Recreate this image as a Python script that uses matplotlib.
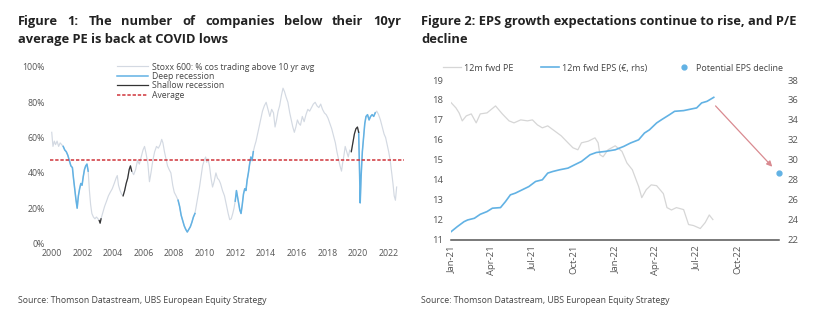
import numpy as np
import pandas as pd
import matplotlib
matplotlib.use("Agg")
import matplotlib.pyplot as plt
import matplotlib.dates as mdates

# ---- Figure 1 data: Stoxx 600 % of companies trading above 10yr avg PE
years = [2000.00, 2000.08, 2000.17, 2000.25, 2000.35, 2000.45, 2000.55, 2000.65, 2000.75, 2000.85,
         2000.95, 2001.05, 2001.15, 2001.25, 2001.35, 2001.42, 2001.50, 2001.58, 2001.66, 2001.74,
         2001.82, 2001.90, 2001.98, 2002.06, 2002.14, 2002.22, 2002.30, 2002.38, 2002.46, 2002.54,
         2002.62, 2002.72, 2002.82, 2002.92, 2003.02, 2003.10, 2003.16, 2003.22, 2003.32, 2003.45,
         2003.58, 2003.70, 2003.82, 2003.95, 2004.08, 2004.20, 2004.28, 2004.36, 2004.46, 2004.56,
         2004.66, 2004.76, 2004.86, 2004.96, 2005.06, 2005.14, 2005.22, 2005.35, 2005.48, 2005.60,
         2005.72, 2005.84, 2005.96, 2006.06, 2006.16, 2006.28, 2006.38, 2006.48, 2006.60, 2006.72,
         2006.84, 2006.96, 2007.08, 2007.18, 2007.26, 2007.36, 2007.46, 2007.56, 2007.66, 2007.78,
         2007.90, 2008.00, 2008.12, 2008.25, 2008.35, 2008.45, 2008.55, 2008.65, 2008.75, 2008.85,
         2008.95, 2009.05, 2009.15, 2009.25, 2009.35, 2009.45, 2009.55, 2009.65, 2009.75, 2009.85,
         2009.95, 2010.05, 2010.12, 2010.20, 2010.30, 2010.40, 2010.50, 2010.60, 2010.72, 2010.82,
         2010.92, 2011.02, 2011.15, 2011.28, 2011.40, 2011.52, 2011.62, 2011.72, 2011.82, 2011.90,
         2011.98, 2012.06, 2012.12, 2012.20, 2012.28, 2012.36, 2012.44, 2012.52, 2012.60, 2012.68,
         2012.76, 2012.84, 2012.92, 2013.00, 2013.08, 2013.16, 2013.24, 2013.34, 2013.44, 2013.54,
         2013.64, 2013.76, 2013.88, 2014.00, 2014.12, 2014.24, 2014.36, 2014.48, 2014.58, 2014.68,
         2014.78, 2014.88, 2015.00, 2015.10, 2015.20, 2015.30, 2015.42, 2015.54, 2015.64, 2015.74,
         2015.84, 2015.94, 2016.04, 2016.14, 2016.24, 2016.36, 2016.48, 2016.60, 2016.72, 2016.84,
         2016.96, 2017.08, 2017.20, 2017.32, 2017.44, 2017.56, 2017.68, 2017.80, 2017.92, 2018.04,
         2018.16, 2018.28, 2018.40, 2018.52, 2018.62, 2018.72, 2018.82, 2018.92, 2019.00, 2019.08,
         2019.16, 2019.26, 2019.36, 2019.46, 2019.56, 2019.66, 2019.76, 2019.86, 2019.96, 2020.04,
         2020.10, 2020.14, 2020.20, 2020.28, 2020.36, 2020.44, 2020.52, 2020.62, 2020.72, 2020.82,
         2020.92, 2021.02, 2021.12, 2021.22, 2021.34, 2021.46, 2021.58, 2021.70, 2021.80, 2021.90,
         2022.00, 2022.10, 2022.20, 2022.28, 2022.36, 2022.44, 2022.52]
pct_above = [63, 55, 58, 56, 58, 55, 57, 56, 55, 53,
             52, 50, 47, 44, 43, 37, 31, 25, 20, 27,
             31, 34, 33, 38, 42, 44, 45, 41, 30, 22,
             17, 15, 14, 15, 14, 13, 11.5, 14, 17, 21,
             24, 27, 29, 31, 34, 37, 38.5, 33, 30, 28,
             27, 30, 34, 37, 42, 44, 41, 39, 42, 47,
             45, 49, 53, 55, 51, 45, 35, 40, 47, 52,
             55, 54, 56, 59, 57, 52, 48, 44, 42, 40,
             33, 29, 27, 24.5, 21, 16, 13, 10, 8, 6.5,
             8, 9.5, 12, 15, 17, 22, 27, 32, 38, 44,
             47, 49, 46, 48, 44, 37, 32, 35, 40, 37,
             36, 34, 30, 27, 22, 17, 13.5, 14, 17, 20,
             24, 30, 27, 23, 19, 17, 22, 28, 31, 30,
             36, 40, 45, 49, 47, 52, 55, 58, 62, 66,
             70, 75, 78, 80, 76, 72, 76, 74, 66, 70,
             75, 78, 84, 88, 86, 83, 80, 74, 70, 66,
             63, 66, 70, 68, 67, 72, 69, 73, 76, 75,
             77, 79, 80, 78, 77, 79, 76, 74, 73, 71,
             68, 65, 61, 57, 52, 48, 44, 41, 46, 50,
             55, 52, 49, 53, 52, 57, 62, 65, 66, 63,
             40, 23, 38, 52, 60, 68, 72, 73, 70, 72,
             73, 72, 74, 75, 73, 70, 66, 62, 60, 56,
             52, 47, 40, 34, 27, 24.5, 32]
deep_periods = [(2000.75, 2002.38), (2008.25, 2009.35), (2011.98, 2013.20), (2020.04, 2021.12)]
shallow_periods = [(2003.10, 2003.22), (2004.66, 2005.22), (2019.56, 2020.04)]
average_pct = 47.5

# ---- Figure 2 data
pe_dates = ["2021-01-01", "2021-01-12", "2021-01-19", "2021-01-26", "2021-02-04", "2021-02-15",
            "2021-02-26", "2021-03-07", "2021-03-22", "2021-04-10", "2021-04-25", "2021-05-10",
            "2021-05-21", "2021-06-05", "2021-06-20", "2021-07-01", "2021-07-12", "2021-07-23",
            "2021-08-04", "2021-08-19", "2021-09-03", "2021-09-18", "2021-09-29", "2021-10-10",
            "2021-10-18", "2021-11-02", "2021-11-17", "2021-11-24", "2021-11-28", "2021-12-05",
            "2021-12-16", "2022-01-01", "2022-01-16", "2022-01-27", "2022-02-08", "2022-02-22",
            "2022-03-01", "2022-03-11", "2022-03-22", "2022-04-03", "2022-04-18", "2022-04-26",
            "2022-05-06", "2022-05-17", "2022-06-02", "2022-06-13", "2022-06-24", "2022-07-09",
            "2022-07-20", "2022-07-29", "2022-08-06"]
pe_fwd = [17.87, 17.6, 17.35, 16.95, 17.2, 17.3,
          16.85, 17.3, 17.35, 17.7, 17.3, 16.95,
          16.85, 17.0, 16.95, 17.0, 16.75, 16.6,
          16.7, 16.45, 16.2, 15.85, 15.6, 15.5,
          15.85, 15.93, 16.1, 15.85, 15.25, 15.15,
          15.5, 15.7, 15.42, 14.84, 14.5, 13.66,
          13.1, 13.5, 13.74, 13.7, 13.3, 12.6,
          12.48, 12.6, 12.5, 11.75, 11.7, 11.55,
          11.85, 12.23, 12.0]
eps_dates = ["2021-01-01", "2021-01-15", "2021-01-30", "2021-02-07", "2021-02-22", "2021-03-07",
             "2021-03-22", "2021-04-03", "2021-04-21", "2021-05-02", "2021-05-13", "2021-05-24",
             "2021-06-08", "2021-06-23", "2021-07-08", "2021-07-23", "2021-08-04", "2021-08-15",
             "2021-08-30", "2021-09-18", "2021-10-03", "2021-10-18", "2021-11-06", "2021-11-20",
             "2021-12-09", "2022-01-01", "2022-01-20", "2022-02-04", "2022-02-22", "2022-03-07",
             "2022-03-18", "2022-04-03", "2022-04-14", "2022-05-02", "2022-05-13", "2022-06-02",
             "2022-06-20", "2022-07-01", "2022-07-12", "2022-07-24", "2022-08-08"]
eps_fwd = [22.78, 23.29, 23.79, 23.96, 24.13, 24.53,
           24.8, 25.14, 25.2, 25.8, 26.48, 26.65,
           26.98, 27.31, 27.82, 27.99, 28.66, 28.82,
           28.99, 29.16, 29.5, 29.83, 30.5, 30.73,
           30.83, 31.0, 31.34, 31.68, 32.0, 32.68,
           33.0, 33.69, 34.02, 34.53, 34.86, 34.93,
           35.1, 35.2, 35.7, 35.86, 36.26]
eps_decline_date = "2022-12-31"
eps_decline_value = 28.65
arrow_from = ("2022-08-12", 35.4)
arrow_to = ("2022-12-16", 29.3)

FONT = "Open Sans"
GRAY_TXT = "#555555"
BLUE = "#62b2e4"

fig = plt.figure(figsize=(8.3, 3.21), dpi=100)
fig.patch.set_facecolor("white")


def justify_line(words, x0, x1, y, **kw):
    # spread the words so the line fills x0..x1 (justified text)
    rend = fig.canvas.get_renderer()
    texts = [fig.text(0, y, w, **kw) for w in words]
    widths = [t.get_window_extent(rend).width / fig.bbox.width for t in texts]
    gap = (x1 - x0 - sum(widths)) / (len(words) - 1)
    x = x0
    for t, w in zip(texts, widths):
        t.set_x(x)
        x += w + gap


title_kw = dict(fontsize=9.25, fontweight="bold", family=FONT, color="#222222", va="baseline")
justify_line("Figure 1: The number of companies below their 10yr".split(),
             18 / 830, 401 / 830, 1 - 25 / 321, **title_kw)
fig.text(18 / 830, 1 - 43 / 321, "average PE is back at COVID lows", **title_kw)
fig.text(421 / 830, 1 - 25 / 321, "Figure 2: EPS growth expectations continue to rise, and P/E", **title_kw)
fig.text(421 / 830, 1 - 43 / 321, "decline", **title_kw)

src_kw = dict(fontsize=6.3, family=FONT, color="#444444", va="baseline")
fig.text(18 / 830, 1 - 303 / 321, "Source: Thomson Datastream, UBS European Equity Strategy", **src_kw)
fig.text(421 / 830, 1 - 303 / 321, "Source: Thomson Datastream, UBS European Equity Strategy", **src_kw)

# ---- Figure 1
ax1 = fig.add_axes([50.2 / 830, 1 - 243.5 / 321, 353.8 / 830, 176.5 / 321])
yrs = np.array(years)
vals = np.array(pct_above)
ax1.plot(yrs, vals, color="#d3d9e2", lw=0.85, label="Stoxx 600: % cos trading above 10 yr avg")
for i, (a, b) in enumerate(deep_periods):
    m = (yrs >= a) & (yrs <= b)
    ax1.plot(yrs[m], vals[m], color=BLUE, lw=1.1, label="Deep recession" if i == 0 else None)
for i, (a, b) in enumerate(shallow_periods):
    m = (yrs >= a) & (yrs <= b)
    ax1.plot(yrs[m], vals[m], color="#333333", lw=0.9, label="Shallow recession" if i == 0 else None)
ax1.axhline(average_pct, color="#d0343a", lw=1.1, ls=(0, (2.2, 1.2)), label="Average")
ax1.set_xlim(1999.9, 2023)
ax1.set_ylim(0, 100)
ax1.set_xticks(range(2000, 2023, 2))
ax1.set_yticks(range(0, 101, 20))
ax1.set_yticklabels([f"{v}%" for v in range(0, 101, 20)])
for s in ax1.spines.values():
    s.set_visible(False)
ax1.tick_params(length=0, labelsize=6.3, labelcolor=GRAY_TXT, pad=4)
for lab in ax1.get_xticklabels() + ax1.get_yticklabels():
    lab.set_family(FONT)
leg1 = ax1.legend(loc="upper left", bbox_to_anchor=(0.18, 1.045), frameon=False,
                  prop={"family": FONT, "size": 6.2}, handlelength=3.6, handletextpad=0.45,
                  labelspacing=0.05, borderaxespad=0)
for t in leg1.get_texts():
    t.set_color("#444444")

# ---- Figure 2
ax2 = fig.add_axes([451 / 830, 1 - 239.5 / 321, 328 / 830, 159.5 / 321])
ax3 = ax2.twinx()
pe_x = pd.to_datetime(pe_dates)
eps_x = pd.to_datetime(eps_dates)
l1, = ax2.plot(pe_x, pe_fwd, color="#d6d6d6", lw=0.9, label="12m fwd PE")
l2, = ax3.plot(eps_x, eps_fwd, color=BLUE, lw=1.2, label="12m fwd EPS (\u20ac, rhs)")
l3, = ax3.plot([pd.Timestamp(eps_decline_date)], [eps_decline_value], "o", color=BLUE, ms=3.5,
               clip_on=False, label="Potential EPS decline")
ax3.annotate("", xy=(pd.Timestamp(arrow_to[0]), arrow_to[1]),
             xytext=(pd.Timestamp(arrow_from[0]), arrow_from[1]),
             arrowprops=dict(arrowstyle="-|>", color="#d98a90", lw=0.9, mutation_scale=8,
                             shrinkA=0, shrinkB=0))
ax2.set_xlim(pd.Timestamp("2021-01-01"), pd.Timestamp("2022-12-31"))
ax2.set_ylim(11, 19)
ax3.set_ylim(22, 38)
ax2.set_yticks(range(11, 20))
ax3.set_yticks(range(22, 39, 2))
ax2.xaxis.set_major_locator(mdates.MonthLocator(bymonth=[1, 4, 7, 10]))
ax2.xaxis.set_major_formatter(mdates.DateFormatter("%b-%y"))
for s in ax2.spines.values():
    s.set_visible(False)
for s in ax3.spines.values():
    s.set_visible(False)
ax2.spines["bottom"].set_visible(True)
ax2.spines["bottom"].set_color("#555555")
ax2.spines["bottom"].set_linewidth(1.1)
ax2.tick_params(axis="y", length=0, labelsize=6.8, labelcolor=GRAY_TXT, pad=6)
ax2.tick_params(axis="x", length=0, labelsize=6.8, labelcolor=GRAY_TXT, pad=4, labelrotation=90)
ax3.tick_params(axis="y", length=0, labelsize=6.8, labelcolor=GRAY_TXT, pad=6)
for lab in ax2.get_xticklabels() + ax2.get_yticklabels() + ax3.get_yticklabels():
    lab.set_family(FONT)
leg2 = ax2.legend(handles=[l1, l2, l3], loc="center", bbox_to_anchor=(0.494, 1.075), ncol=3,
                  frameon=False, prop={"family": FONT, "size": 6.5}, handlelength=2.0,
                  handletextpad=0.4, columnspacing=3.0, borderaxespad=0)
for t in leg2.get_texts():
    t.set_color("#444444")

fig.savefig("out.png", dpi=100, facecolor="white")
